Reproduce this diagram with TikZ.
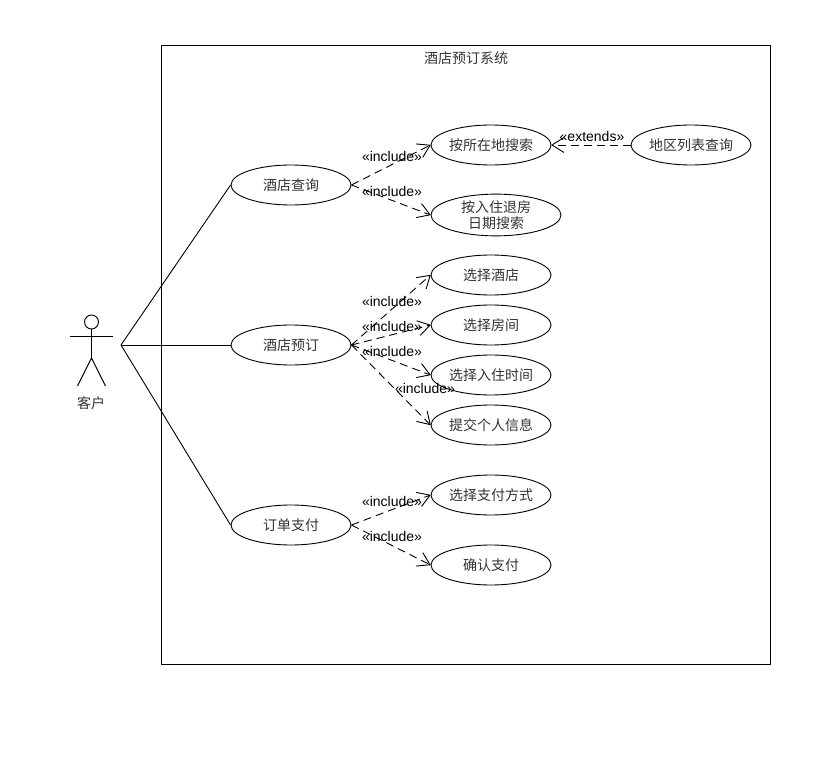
\documentclass[tikz,border=0pt]{standalone}
\usepackage{fontspec}
\setmainfont{Liberation Sans}
\newfontfamily\cjk{Noto Sans CJK SC}
\usetikzlibrary{shapes.geometric,arrows.meta}
\pgfdeclarearrow{
    name=openv,
    setup code={
        \pgfarrowssettipend{0.5pt}
        \pgfarrowssetlineend{-0.5pt}
        \pgfarrowsupperhullpoint{-12pt}{7.5pt}
        \pgfarrowsupperhullpoint{0.5pt}{0pt}
    },
    drawing code={
        \pgfsetdash{}{0pt}
        \pgfsetroundjoin
        \pgfpathmoveto{\pgfqpoint{-12pt}{7.5pt}}
        \pgfpathlineto{\pgfpointorigin}
        \pgfpathlineto{\pgfqpoint{-12pt}{-7.5pt}}
        \pgfusepathqstroke
    },
}
\tikzset{
    usecase/.style={ellipse, draw, line width=0.9pt, minimum width=120pt, minimum height=40pt, inner sep=0pt, align=center, font=\cjk\fontsize{14}{16.5}\selectfont, text=black!80},
    incl/.style={draw, dash pattern=on 8pt off 5pt, line width=0.9pt, -{openv}},
    stereo/.style={inner sep=0pt, font=\fontsize{14}{16}\selectfont},
    cjklabel/.style={inner sep=0pt, font=\cjk\fontsize{14}{16}\selectfont, text=black!80},
}
\begin{document}
\begin{tikzpicture}[x=1pt, y=-1pt]
    \useasboundingbox (0, 0) rectangle (819, 759);
    \node[draw, line width=0.9pt, minimum width=609pt, minimum height=619pt, inner sep=0pt] (system) at (466, 354.5) {};
    \node[cjklabel] (title) at (466, 58) {酒店预订系统};

    % actor
    \node[circle, draw, line width=0.9pt, minimum size=14pt, inner sep=0pt] (head) at (91.5, 322) {};
    \coordinate (hip) at (91.5, 358);
    \coordinate (armL) at (70, 336.5);
    \coordinate (armR) at (113, 336.5);
    \coordinate (footL) at (77.5, 386);
    \coordinate (footR) at (105.5, 386);
    \coordinate (actor) at (121, 345);
    \node[cjklabel] (customer) at (91, 403) {客户};
    \draw[line width=0.9pt] (head) -- (hip);
    \draw[line width=0.9pt] (armL) -- (armR);
    \draw[line width=0.9pt] (footL) -- (hip) -- (footR);

    \node[usecase] (query) at (291, 185) {酒店查询};
    \node[usecase] (book) at (291, 345) {酒店预订};
    \node[usecase] (pay) at (291, 525) {订单支付};

    \node[usecase] (byplace) at (491, 145) {按所在地搜索};
    \node[usecase, minimum width=130pt] (bydate) at (496, 215) {按入住退房\\日期搜索};
    \node[usecase] (arealist) at (691, 145) {地区列表查询};

    \node[usecase] (hotel) at (491, 275) {选择酒店};
    \node[usecase] (room) at (491, 325) {选择房间};
    \node[usecase] (time) at (491, 375) {选择入住时间};
    \node[usecase] (info) at (491, 425) {提交个人信息};

    \node[usecase] (method) at (491, 495) {选择支付方式};
    \node[usecase] (confirm) at (491, 565) {确认支付};

    \draw[line width=0.9pt] (actor) -- (query.west);
    \draw[line width=0.9pt] (actor) -- (book.west);
    \draw[line width=0.9pt] (actor) -- (pay.west);

    \draw[incl] (query.east) -- (byplace.west);
    \draw[incl] (query.east) -- (bydate.west);
    \draw[incl] (arealist.west) -- (byplace.east);
    \draw[incl] (book.east) -- (hotel.west);
    \draw[incl] (book.east) -- (room.west);
    \draw[incl] (book.east) -- (time.west);
    \draw[incl] (book.east) -- (info.west);
    \draw[incl] (pay.east) -- (method.west);
    \draw[incl] (pay.east) -- (confirm.west);

    \node[stereo] (l1) at (392, 156) {«include»};
    \node[stereo] (l2) at (392, 191) {«include»};
    \node[stereo] (l3) at (592, 136) {«extends»};
    \node[stereo] (l4) at (392, 301) {«include»};
    \node[stereo] (l5) at (392, 326) {«include»};
    \node[stereo] (l6) at (392, 351) {«include»};
    \node[stereo] (l7) at (425, 388) {«include»};
    \node[stereo] (l8) at (392, 501) {«include»};
    \node[stereo] (l9) at (392, 536) {«include»};
\end{tikzpicture}
\end{document}
